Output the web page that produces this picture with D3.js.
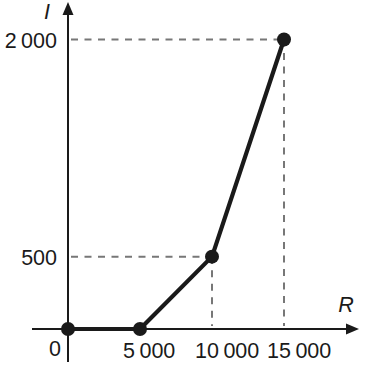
<!DOCTYPE html>
<html>
<head>
<meta charset="utf-8">
<script src="https://cdn.jsdelivr.net/npm/d3@7"></script>
<style>
  body { margin: 0; background: #fff; }
  svg text { font-family: "Liberation Sans", Arial, sans-serif; fill: #1a1a1a; }
</style>
</head>
<body>
<div id="chart"></div>
<script>
// data
const rValues = [0, 5000, 10000, 15000];
const iValues = [0, 0, 500, 2000];
const xTickValues = [5000, 10000, 15000];
const xTickLabels = ["5 000", "10 000", "15 000"];
const yTickValues = [500, 2000];
const yTickLabels = ["500", "2 000"];
const guidePoints = [2, 3]; // indices with dashed guides

const width = 377, height = 371;

const svg = d3.select('#chart')
    .append('svg')
    .attr('width', width)
    .attr('height', height);

// scales: 0 -> axis crossing
const x = d3.scaleLinear().domain([0, 15000]).range([68, 284]);
const y = d3.scaleLinear().domain([0, 2000]).range([329, 39.5]);

const points = rValues.map((r, i) => ({ r: r, i: iValues[i] }));

// dashed guides
const guides = svg.append('g')
    .attr('stroke', '#777')
    .attr('stroke-width', 2)
    .attr('stroke-dasharray', '7,6.5');

guidePoints.forEach(k => {
    const p = points[k];
    guides.append('line')
        .attr('x1', x(0) + 3).attr('x2', x(p.r))
        .attr('y1', y(p.i)).attr('y2', y(p.i));
    guides.append('line')
        .attr('x1', x(p.r)).attr('x2', x(p.r))
        .attr('y1', y(p.i)).attr('y2', y(0) - 3);
});

// axes
const axisG = svg.append('g').attr('stroke', '#1a1a1a').attr('stroke-width', 2);
axisG.append('line')
    .attr('x1', 32).attr('x2', 350)
    .attr('y1', y(0)).attr('y2', y(0));
axisG.append('line')
    .attr('x1', x(0)).attr('x2', x(0))
    .attr('y1', 362).attr('y2', 12);

svg.append('path')
    .attr('d', `M359,${y(0)} L346,${y(0) - 5.5} L346,${y(0) + 5.5} Z`)
    .attr('fill', '#1a1a1a');
svg.append('path')
    .attr('d', `M${x(0)},2 L${x(0) - 5.5},15 L${x(0) + 5.5},15 Z`)
    .attr('fill', '#1a1a1a');

// tick labels (the source sets them a little right of the tick)
svg.append('g')
    .selectAll('text')
    .data(xTickValues)
    .enter().append('text')
    .attr('x', d => x(d) - 17)
    .attr('y', 358)
    .attr('text-anchor', 'start')
    .attr('font-size', 21.5)
    .attr('word-spacing', -1.5)
    .text((d, i) => xTickLabels[i]);

svg.append('g')
    .selectAll('text')
    .data(yTickValues)
    .enter().append('text')
    .attr('x', 57)
    .attr('y', d => y(d) + 8)
    .attr('text-anchor', 'end')
    .attr('font-size', 21.5)
    .attr('word-spacing', -1.5)
    .text((d, i) => yTickLabels[i]);

svg.append('text')
    .attr('x', 55).attr('y', 356)
    .attr('text-anchor', 'middle')
    .attr('font-size', 21.5)
    .text('0');

// axis titles
svg.append('text')
    .attr('x', 47).attr('y', 19)
    .attr('text-anchor', 'middle')
    .attr('font-size', 21.5)
    .attr('font-style', 'italic')
    .text('I');
svg.append('text')
    .attr('x', 346).attr('y', 312)
    .attr('text-anchor', 'middle')
    .attr('font-size', 21.5)
    .attr('font-style', 'italic')
    .text('R');

// data line
const line = d3.line()
    .x(d => x(d.r))
    .y(d => y(d.i));

svg.append('path')
    .datum(points)
    .attr('d', line)
    .attr('fill', 'none')
    .attr('stroke', '#1a1a1a')
    .attr('stroke-width', 4.2)
    .attr('stroke-linejoin', 'round');

svg.append('g')
    .selectAll('circle')
    .data(points)
    .enter().append('circle')
    .attr('cx', d => x(d.r))
    .attr('cy', d => y(d.i))
    .attr('r', 7)
    .attr('fill', '#1a1a1a');
</script>
</body>
</html>
